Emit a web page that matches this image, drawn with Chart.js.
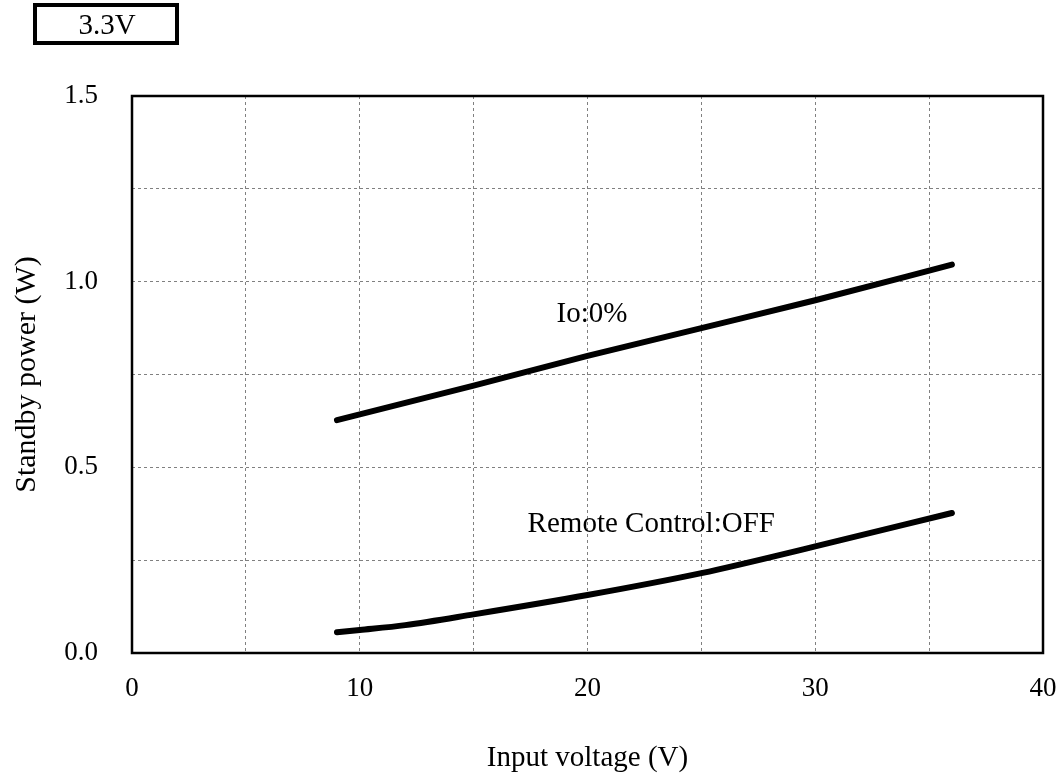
<!DOCTYPE html>
<html>
<head>
<meta charset="utf-8">
<script src="https://cdn.jsdelivr.net/npm/chart.js@4.4.1/dist/chart.umd.min.js"></script>
<style>
  html, body { margin: 0; padding: 0; background: #fff; }
  #wrap { width: 1062px; height: 776px; }
</style>
</head>
<body>
<div id="wrap"><canvas id="myChart" width="1062" height="776"></canvas></div>
<script>
// values
var ioVoltage = [9, 15, 20, 25, 30, 36];
var ioPower = [0.627, 0.72, 0.80, 0.875, 0.95, 1.046];

var rcVoltage = [9, 10, 12, 15, 20, 25, 30, 36];
var rcPower = [0.056, 0.062, 0.075, 0.104, 0.156, 0.215, 0.287, 0.377];

var xTickStep = 5;   // grid every 5 V, label every 10 V
var yTickStep = 0.25; // grid every 0.25 W, label every 0.5 W

var FONT = "'Liberation Serif', 'Times New Roman', serif";

function toPoints(xs, ys) {
  var pts = [];
  for (var i = 0; i < xs.length; i++) {
    pts.push({ x: xs[i], y: ys[i] });
  }
  return pts;
}

// text notes and the frame round the plot
var notesPlugin = {
  id: 'notes',
  afterDraw: function(chart) {
    var ctx = chart.ctx;
    var xs = chart.scales.x, ys = chart.scales.y;
    var area = chart.chartArea;
    ctx.save();

    // plot frame
    ctx.strokeStyle = '#000';
    ctx.lineWidth = 2.5;
    ctx.strokeRect(area.left, area.top, area.right - area.left, area.bottom - area.top);

    // series labels
    ctx.fillStyle = '#000';
    ctx.font = '29px ' + FONT;
    ctx.textAlign = 'center';
    ctx.textBaseline = 'alphabetic';
    ctx.fillText('Io:0%', xs.getPixelForValue(20.2), ys.getPixelForValue(0.892));
    ctx.fillText('Remote Control:OFF', xs.getPixelForValue(22.8), ys.getPixelForValue(0.326));

    // 3.3V box
    ctx.lineWidth = 4;
    ctx.strokeRect(35, 5, 142, 38);
    ctx.textBaseline = 'middle';
    ctx.fillText('3.3V', 107, 26);

    ctx.restore();
  }
};

var ctx = document.getElementById('myChart').getContext('2d');
var chart = new Chart(ctx, {
  type: 'line',
  data: {
    datasets: [
      {
        label: 'Io:0%',
        data: toPoints(ioVoltage, ioPower),
        borderColor: '#000',
        borderWidth: 6,
        borderCapStyle: 'round',
        pointRadius: 0,
        fill: false,
        cubicInterpolationMode: 'monotone'
      },
      {
        label: 'Remote Control:OFF',
        data: toPoints(rcVoltage, rcPower),
        borderColor: '#000',
        borderWidth: 6,
        borderCapStyle: 'round',
        pointRadius: 0,
        fill: false,
        cubicInterpolationMode: 'monotone'
      }
    ]
  },
  options: {
    responsive: false,
    animation: false,
    layout: { padding: { left: 0, top: 96, right: 19, bottom: 0 } },
    plugins: {
      legend: { display: false },
      tooltip: { enabled: false }
    },
    scales: {
      x: {
        type: 'linear',
        min: 0,
        max: 40,
        afterFit: function(scale) {
          scale.height = 123;
          scale.paddingLeft = 0;
          scale.paddingRight = 0;
        },
        border: { display: false, dash: [3, 3] },
        grid: {
          color: '#808080',
          lineWidth: 1,
          drawTicks: false
        },
        ticks: {
          stepSize: xTickStep,
          autoSkip: false,
          maxRotation: 0,
          padding: 20,
          color: '#000',
          font: { family: FONT, size: 27 },
          callback: function(v) { return v % 10 === 0 ? String(v) : ''; }
        },
        title: {
          display: true,
          text: 'Input voltage (V)',
          color: '#000',
          font: { family: FONT, size: 29 },
          padding: { top: 2, bottom: 0 }
        }
      },
      y: {
        type: 'linear',
        min: 0,
        max: 1.5,
        afterFit: function(scale) {
          scale.width = 132;
          scale.paddingTop = 0;
          scale.paddingBottom = 0;
        },
        border: { display: false, dash: [3, 3] },
        grid: {
          color: '#808080',
          lineWidth: 1,
          drawTicks: false
        },
        ticks: {
          stepSize: yTickStep,
          autoSkip: false,
          padding: 34,
          color: '#000',
          font: { family: FONT, size: 27 },
          callback: function(v) {
            var d = v * 2;
            return Math.abs(d - Math.round(d)) < 1e-6 ? v.toFixed(1) : '';
          }
        },
        title: {
          display: true,
          text: 'Standby power (W)',
          color: '#000',
          font: { family: FONT, size: 30 },
          padding: { top: 9, bottom: 0 }
        }
      }
    }
  },
  plugins: [notesPlugin]
});
</script>
</body>
</html>
